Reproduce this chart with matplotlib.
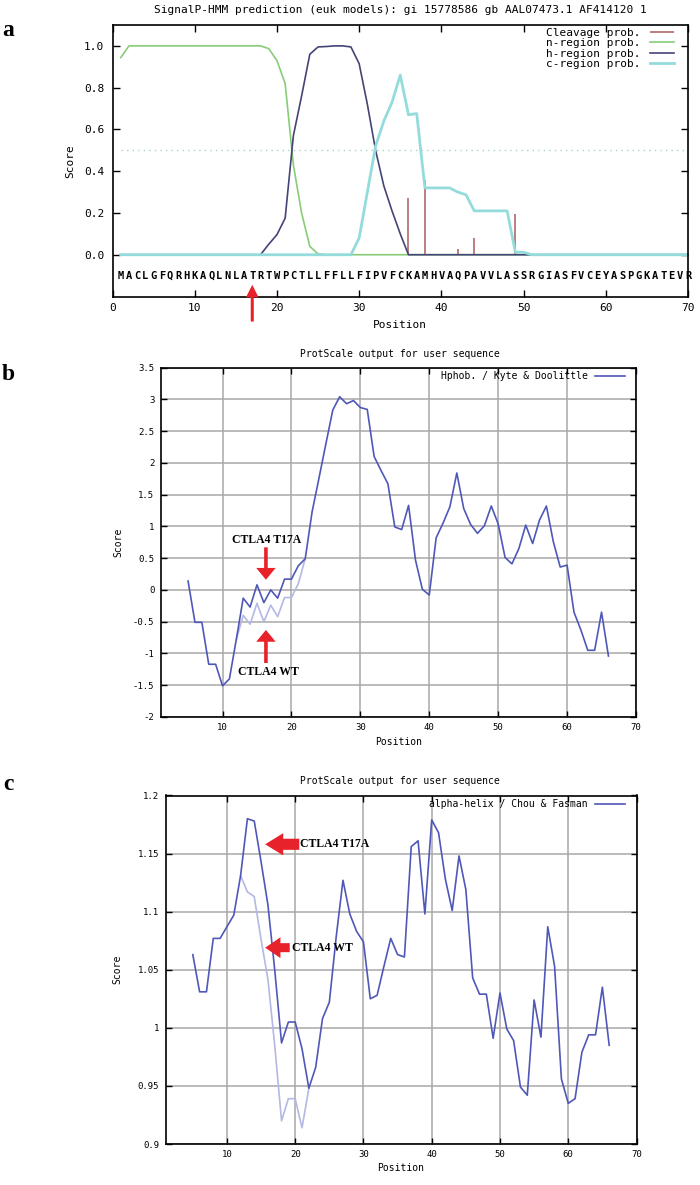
import numpy as np
import matplotlib
matplotlib.use("Agg")
import matplotlib.pyplot as plt

plt.rcParams['axes.unicode_minus'] = False
plt.rcParams['font.family'] = ['DejaVu Sans Mono']

# ---------- panel a : SignalP-HMM ----------
sequence = "MACLGFQRHKAQLNLATRTWPCTLLFFLLFIPVFCKAMHVAQPAVVLASSRGIASFVCEYASPGKATEVR"
pos_a = np.arange(1, 71)
n_region = [0.944, 1.0, 1.0, 1.0, 1.0, 1.0, 1.0, 1.0, 1.0, 1.0,
            1.0, 1.0, 1.0, 1.0, 1.0, 1.0, 1.0, 1.0, 0.987, 0.93,
            0.82, 0.43, 0.2, 0.04, 0.004, 0, 0, 0, 0, 0,
            0, 0, 0, 0, 0, 0, 0, 0, 0, 0,
            0, 0, 0, 0, 0, 0, 0, 0, 0, 0,
            0, 0, 0, 0, 0, 0, 0, 0, 0, 0,
            0, 0, 0, 0, 0, 0, 0, 0, 0, 0]
h_region = [0, 0, 0, 0, 0, 0, 0, 0, 0, 0,
            0, 0, 0, 0, 0, 0, 0, 0, 0.05, 0.096,
            0.175, 0.57, 0.76, 0.96, 0.995, 0.997, 1.0, 1.0, 0.995, 0.915,
            0.72, 0.5, 0.33, 0.21, 0.1, 0, 0, 0, 0, 0,
            0, 0, 0, 0, 0, 0, 0, 0, 0, 0,
            0, 0, 0, 0, 0, 0, 0, 0, 0, 0,
            0, 0, 0, 0, 0, 0, 0, 0, 0, 0]
c_region = [0, 0, 0, 0, 0, 0, 0, 0, 0, 0,
            0, 0, 0, 0, 0, 0, 0, 0, 0, 0,
            0, 0, 0, 0, 0, 0, 0, 0, 0, 0.08,
            0.3, 0.52, 0.64, 0.73, 0.86, 0.67, 0.676, 0.32, 0.32, 0.32,
            0.32, 0.30, 0.287, 0.21, 0.21, 0.21, 0.21, 0.21, 0.012, 0.012,
            0, 0, 0, 0, 0, 0, 0, 0, 0, 0,
            0, 0, 0, 0, 0, 0, 0, 0, 0, 0]
cleave_pos = [36, 38, 42, 44, 49]
cleave_val = [0.27, 0.36, 0.028, 0.08, 0.195]
mutation_site = 17

# ---------- panel b : Kyte & Doolittle ----------
pos_b = np.arange(5, 67)
kd_t17a = [0.14, -0.51, -0.51, -1.17, -1.17, -1.51, -1.40, -0.78, -0.13, -0.27,
           0.08, -0.20, 0.00, -0.13, 0.17, 0.17, 0.38, 0.49, 1.23, 1.76,
           2.30, 2.83, 3.04, 2.93, 2.98, 2.87, 2.84, 2.10, 1.88, 1.67,
           0.99, 0.95, 1.33, 0.47, 0.01, -0.08, 0.82, 1.05, 1.31, 1.84,
           1.28, 1.03, 0.89, 1.01, 1.32, 1.04, 0.51, 0.41, 0.65, 1.02,
           0.73, 1.10, 1.32, 0.76, 0.36, 0.39, -0.35, -0.63, -0.95, -0.95,
           -0.35, -1.04]
pos_b_wt = np.arange(12, 23)
kd_wt = [-0.78, -0.40, -0.54, -0.21, -0.50, -0.24, -0.42, -0.12, -0.12, 0.10, 0.49]

# ---------- panel c : Chou & Fasman alpha-helix ----------
pos_c = np.arange(5, 67)
cf_t17a = [1.063, 1.031, 1.031, 1.077, 1.077, 1.087, 1.097, 1.131, 1.180, 1.178,
           1.143, 1.106, 1.050, 0.987, 1.005, 1.005, 0.982, 0.948, 0.966, 1.008,
           1.022, 1.078, 1.127, 1.098, 1.083, 1.074, 1.025, 1.028, 1.053, 1.077,
           1.063, 1.061, 1.156, 1.161, 1.098, 1.179, 1.168, 1.128, 1.101, 1.148,
           1.119, 1.043, 1.029, 1.029, 0.991, 1.030, 0.999, 0.989, 0.949, 0.942,
           1.024, 0.992, 1.087, 1.053, 0.956, 0.935, 0.939, 0.979, 0.994, 0.994,
           1.035, 0.985]
pos_c_wt = np.arange(12, 23)
cf_wt = [1.131, 1.117, 1.113, 1.076, 1.042, 0.985, 0.920, 0.939, 0.939, 0.914, 0.948]

W, H = 700, 1185
fig = plt.figure(figsize=(W / 100, H / 100), dpi=100)


def rect(l, r, t, b):
    return [l / W, 1 - b / H, (r - l) / W, (b - t) / H]


blue = '#4f58b8'
light_blue = '#b4b8e4'
red = '#e8222a'
serif = ['Liberation Serif', 'DejaVu Serif']

# ======== a ========
ax = fig.add_axes(rect(112.5, 688, 25, 296.5))
ax.hlines(0.5, 1, 70, colors='#a8d4d4', linestyles=(0, (1, 3)), lw=1)
ax.vlines(cleave_pos, 0, cleave_val, colors='#b06868', lw=1.2, label='Cleavage prob.')
ax.plot(pos_a, n_region, color='#88cc78', lw=1.2, label='n-region prob.')
ax.plot(pos_a, h_region, color='#444477', lw=1.2, label='h-region prob.')
ax.plot(pos_a, c_region, color='#94dcdc', lw=2.0, label='c-region prob.')
for i, ch in enumerate(sequence):
    ax.text(pos_a[i], -0.1, ch, ha='center', va='center', fontsize=7.5, fontweight='bold')
ax.annotate('', xy=(mutation_site, -0.144), xytext=(mutation_site, -0.32),
            arrowprops=dict(facecolor=red, edgecolor='none', width=2.2, headwidth=9,
                            headlength=9, shrink=0), annotation_clip=False)
ax.set_xlim(0, 70)
ax.set_ylim(-0.2, 1.1)
ax.set_xticks(range(0, 71, 10))
ax.set_yticks([0, 0.2, 0.4, 0.6, 0.8, 1.0])
ax.yaxis.set_major_formatter('{x:.1f}')
ax.tick_params(direction='in', top=True, right=True, length=5, width=1,
               labelsize=8, pad=5)
ax.tick_params(axis='y', pad=6)
ax.set_xlabel('Position', fontsize=8)
ax.set_ylabel('Score', fontsize=8)
ax.xaxis.set_label_coords(0.5, -0.085)
ax.yaxis.set_label_coords(-0.064, 0.5)
for s in ax.spines.values():
    s.set_linewidth(1.2)
ax.legend(loc='upper right', bbox_to_anchor=(0.9757, 0.99), markerfirst=False,
          frameon=False, fontsize=8, handlelength=2.2, handletextpad=0.8,
          labelspacing=0.05, borderpad=0, borderaxespad=0)
fig.text(400 / W, 1 - 10 / H,
         'SignalP-HMM prediction (euk models): gi 15778586 gb AAL07473.1 AF414120 1',
         ha='center', va='center', fontsize=8)
fig.text(8 / W, 1 - 30 / H, 'a', ha='center', va='center', fontsize=17,
         fontweight='bold', family=serif)


def protscale(ax, title_y, anchor):
    ax.set_axisbelow(True)
    ax.grid(True, color='#a8a8a8', lw=1.1)
    ax.set_xlim(1, 70)
    ax.set_xticks(range(10, 71, 10))
    ax.tick_params(direction='in', top=True, right=True, length=4, width=1,
                   labelsize=6.5, pad=4.5)
    ax.set_xlabel('Position', fontsize=7)
    ax.set_ylabel('Score', fontsize=7)
    for s in ax.spines.values():
        s.set_linewidth(1.2)
    ax.legend(loc='upper right', bbox_to_anchor=anchor, frameon=False, markerfirst=False,
              fontsize=7, handlelength=3.1, handletextpad=0.7, borderpad=0, borderaxespad=0)
    fig.text(400 / W, 1 - title_y / H, 'ProtScale output for user sequence',
             ha='center', va='center', fontsize=7)


# ======== b ========
ax = fig.add_axes(rect(160.5, 636, 367.5, 717))
ax.plot(pos_b_wt, kd_wt, color=light_blue, lw=1.2)
ax.plot(pos_b, kd_t17a, color=blue, lw=1.2, label='Hphob. / Kyte & Doolittle')
ax.set_ylim(-2, 3.5)
yb = [-2, -1.5, -1, -0.5, 0, 0.5, 1, 1.5, 2, 2.5, 3, 3.5]
ax.set_yticks(yb)
ax.set_yticklabels([f'{v:g}' for v in yb])
protscale(ax, 354, (0.9769, 0.9886))
ax.xaxis.set_label_coords(0.5, -0.057)
ax.yaxis.set_label_coords(-0.078, 0.5)
ax.annotate('', xy=(16.3, 0.16), xytext=(16.3, 0.67),
            arrowprops=dict(facecolor=red, edgecolor='none', width=2.6, headwidth=14,
                            headlength=8.5, shrink=0))
ax.annotate('', xy=(16.3, -0.63), xytext=(16.3, -1.15),
            arrowprops=dict(facecolor=red, edgecolor='none', width=2.6, headwidth=14,
                            headlength=8.5, shrink=0))
ax.text(16.4, 0.78, 'CTLA4 T17A', ha='center', va='center', fontsize=8.5,
        fontweight='bold', family=serif)
ax.text(16.6, -1.29, 'CTLA4 WT', ha='center', va='center', fontsize=8.5,
        fontweight='bold', family=serif)
fig.text(8 / W, 1 - 375 / H, 'b', ha='center', va='center', fontsize=17,
         fontweight='bold', family=serif)

# ======== c ========
ax = fig.add_axes(rect(165.5, 636.5, 795.5, 1144))
ax.plot(pos_c_wt, cf_wt, color=light_blue, lw=1.2)
ax.plot(pos_c, cf_t17a, color=blue, lw=1.2, label='alpha-helix / Chou & Fasman')
ax.set_ylim(0.9, 1.2)
yc = [0.9, 0.95, 1.0, 1.05, 1.1, 1.15, 1.2]
ax.set_yticks(yc)
ax.set_yticklabels([f'{v:g}' for v in yc])
protscale(ax, 780.5, (0.975, 0.99))
ax.xaxis.set_label_coords(0.5, -0.0545)
ax.yaxis.set_label_coords(-0.091, 0.5)
ax.annotate('', xy=(15.6, 1.158), xytext=(20.6, 1.158),
            arrowprops=dict(facecolor=red, edgecolor='none', width=8, headwidth=16,
                            headlength=13, shrink=0))
ax.annotate('', xy=(15.6, 1.069), xytext=(19.2, 1.069),
            arrowprops=dict(facecolor=red, edgecolor='none', width=6.5, headwidth=15,
                            headlength=11, shrink=0))
ax.text(20.7, 1.158, 'CTLA4 T17A', ha='left', va='center', fontsize=8.5,
        fontweight='bold', family=serif)
ax.text(19.5, 1.069, 'CTLA4 WT', ha='left', va='center', fontsize=8.5,
        fontweight='bold', family=serif)
fig.text(8 / W, 1 - 785 / H, 'c', ha='center', va='center', fontsize=17,
         fontweight='bold', family=serif)

fig.savefig('out.png', dpi=100)
